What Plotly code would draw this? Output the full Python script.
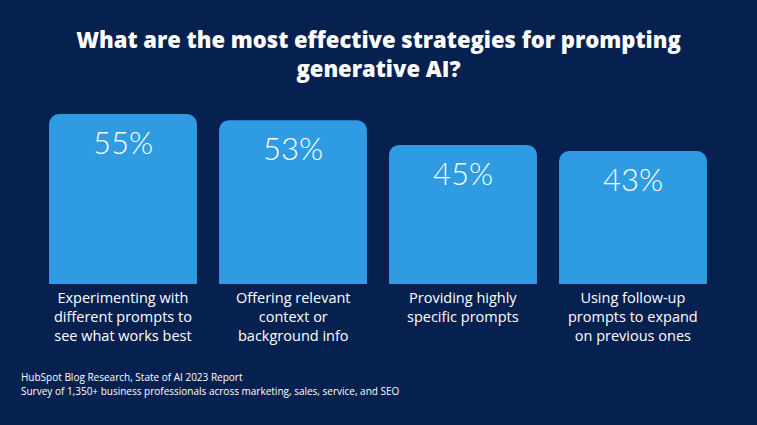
import plotly.graph_objects as go

categories = [
    "Experimenting with<br>different prompts to<br>see what works best",
    "Offering relevant<br>context or<br>background info",
    "Providing highly<br>specific prompts",
    "Using follow-up<br>prompts to expand<br>on previous ones",
]
values = [55, 53, 45, 43]
value_labels = ["55%", "53%", "45%", "43%"]
title_text = "What are the most effective strategies for prompting<br>generative AI?"
source_lines = [
    "HubSpot Blog Research, State of AI 2023 Report",
    "Survey of 1,350+ business professionals across marketing, sales, service, and SEO",
]

BG = "#06214f"
BAR = "#2e9be3"
W, H = 757, 425
ML, MR, MT, MB = 38, 39, 99, 141
plot_h = H - MT - MB
px_per_unit = 170 / 55.0
ymax = plot_h / px_per_unit

x_idx = list(range(len(categories)))

fig = go.Figure()
fig.add_trace(go.Bar(
    x=x_idx, y=values,
    marker=dict(color=BAR, line=dict(width=0)),
    hoverinfo="skip",
))

annotations = []
for i, (v, lab) in enumerate(zip(values, value_labels)):
    annotations.append(dict(
        x=i, y=v, xref="x", yref="y", text=lab, showarrow=False,
        yanchor="middle", yshift=-28,
        font=dict(family="Lato", size=31, color="white", weight=300),
    ))
for i, cat in enumerate(categories):
    annotations.append(dict(
        x=i, y=0, xref="x", yref="y", text=cat, showarrow=False,
        yanchor="top", yshift=-2, align="center",
        font=dict(family="Open Sans", size=14.5, color="white"),
    ))
src_y0 = 377
for j, line in enumerate(source_lines):
    py = src_y0 + j * 13.5
    px_x = 19
    annotations.append(dict(
        x=(px_x - ML) / (W - ML - MR), y=(H - MB - py) / plot_h,
        xref="paper", yref="paper", text=line,
        showarrow=False, xanchor="left", yanchor="middle",
        font=dict(family="Open Sans", size=10, color="white"),
    ))

fig.update_layout(
    width=W, height=H,
    paper_bgcolor=BG, plot_bgcolor=BG,
    margin=dict(l=ML, r=MR, t=MT, b=MB),
    bargap=0.13,
    barcornerradius=10,
    showlegend=False,
    title=dict(
        text=title_text, x=0.5, xanchor="center", xref="container",
        y=1 - 48 / H, yref="container", yanchor="middle",
        font=dict(family="Open Sans", size=22, color="white", weight=800),
    ),
    xaxis=dict(range=[-0.5, 3.5], visible=False, fixedrange=True),
    yaxis=dict(range=[0, ymax], visible=False, fixedrange=True),
    annotations=annotations,
)

fig.write_html(
    "out.html",
    config={"displayModeBar": False},
    post_script="document.body.style.margin='0';document.body.style.background='" + BG + "';",
)
